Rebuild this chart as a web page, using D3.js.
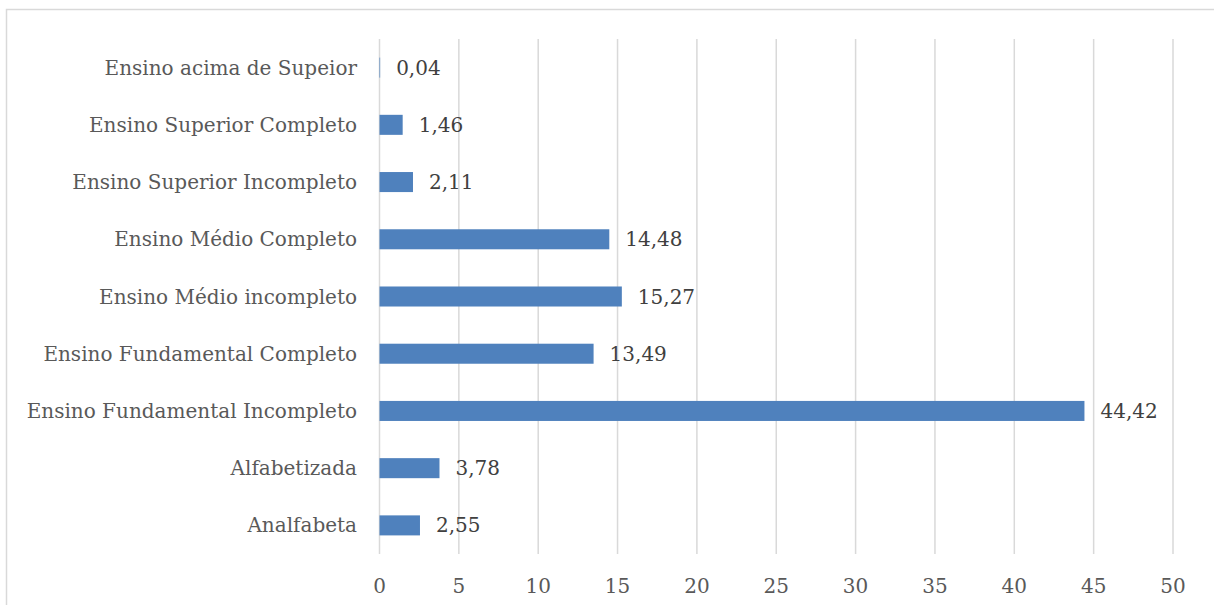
<!DOCTYPE html>
<html lang="pt">
<head>
  <meta charset="UTF-8">
  <title>Escolaridade</title>
  <script src="https://d3js.org/d3.v7.min.js"></script>
  <style>
    body, html {
      margin: 0;
      padding: 0;
      overflow: hidden;
      background: #ffffff;
    }
  </style>
</head>
<body>
  <script>
    // categories, top to bottom as shown
    const categories = [
      "Ensino acima de Supeior",
      "Ensino Superior Completo",
      "Ensino Superior Incompleto",
      "Ensino Médio Completo",
      "Ensino Médio incompleto",
      "Ensino Fundamental Completo",
      "Ensino Fundamental Incompleto",
      "Alfabetizada",
      "Analfabeta"
    ];
    const values = [0.04, 1.46, 2.11, 14.48, 15.27, 13.49, 44.42, 3.78, 2.55];
    const xTicks = [0, 5, 10, 15, 20, 25, 30, 35, 40, 45, 50];

    const width = 1214, height = 605;
    const margin = { top: 39, right: 41, bottom: 51, left: 379.5 };
    const fontFam = "'DejaVu Serif', 'Liberation Serif', serif";
    const fontSize = "20px";

    const svg = d3.select("body").append("svg")
      .attr("width", width)
      .attr("height", height);

    // chart area border
    svg.append("rect")
      .attr("x", 6.5)
      .attr("y", 9.5)
      .attr("width", 1230)
      .attr("height", 640)
      .attr("fill", "none")
      .attr("stroke", "#d9d9d9")
      .attr("stroke-width", 1.5);

    const x = d3.scaleLinear()
      .domain([0, 50])
      .range([margin.left, width - margin.right]);

    const y = d3.scaleBand()
      .domain(categories)
      .range([margin.top, height - margin.bottom])
      .paddingInner(0.65)
      .paddingOuter(0.325);

    // vertical gridlines
    svg.append("g")
      .selectAll("line")
      .data(xTicks)
      .join("line")
      .attr("x1", d => x(d))
      .attr("x2", d => x(d))
      .attr("y1", margin.top)
      .attr("y2", height - margin.bottom)
      .attr("stroke", "#d9d9d9")
      .attr("stroke-width", 1.5);

    // bars
    svg.append("g")
      .selectAll("rect")
      .data(values)
      .join("rect")
      .attr("x", x(0))
      .attr("y", (d, i) => y(categories[i]))
      .attr("width", d => x(d) - x(0))
      .attr("height", y.bandwidth())
      .attr("fill", "#4f81bd");

    // value labels
    svg.append("g")
      .selectAll("text")
      .data(values)
      .join("text")
      .attr("x", d => x(d) + 16)
      .attr("y", (d, i) => y(categories[i]) + y.bandwidth() / 2)
      .attr("dy", "0.35em")
      .attr("font-family", fontFam)
      .attr("font-size", fontSize)
      .attr("fill", "#404040")
      .text(d => d.toFixed(2).replace(".", ","));

    // category labels
    svg.append("g")
      .selectAll("text")
      .data(categories)
      .join("text")
      .attr("x", 357)
      .attr("y", d => y(d) + y.bandwidth() / 2)
      .attr("dy", "0.35em")
      .attr("text-anchor", "end")
      .attr("font-family", fontFam)
      .attr("font-size", fontSize)
      .attr("fill", "#595959")
      .text(d => d);

    // x axis tick labels
    svg.append("g")
      .selectAll("text")
      .data(xTicks)
      .join("text")
      .attr("x", d => x(d))
      .attr("y", 586)
      .attr("dy", "0.35em")
      .attr("text-anchor", "middle")
      .attr("font-family", fontFam)
      .attr("font-size", fontSize)
      .attr("fill", "#595959")
      .text(d => d);
  </script>
</body>
</html>
